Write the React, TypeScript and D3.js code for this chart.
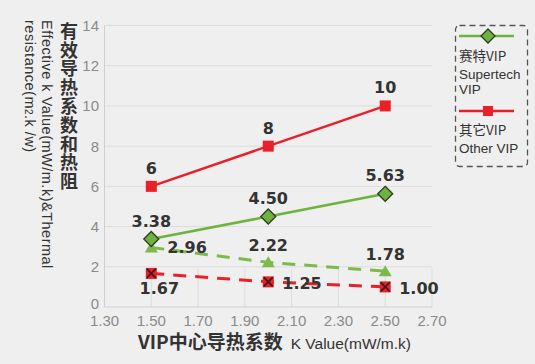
import React from "react";
import * as d3 from "d3";

const xValues = [1.5, 2.0, 2.5];
const superK = [3.38, 4.5, 5.63];
const otherK = [6, 8, 10];
const superR = [2.96, 2.22, 1.78];
const otherR = [1.67, 1.25, 1.0];
const superKLabels = ["3.38", "4.50", "5.63"];
const otherKLabels = ["6", "8", "10"];
const superRLabels = ["2.96", "2.22", "1.78"];
const otherRLabels = ["1.67", "1.25", "1.00"];
const xTicks = [1.3, 1.5, 1.7, 1.9, 2.1, 2.3, 2.5, 2.7];
const yTicks = [0, 2, 4, 6, 8, 10, 12, 14];
const yTitleCN = "有效导热系数和热阻";

const W = 535, H = 364;
const GREEN = "#6db33f";
const GREEN_D = "#7dba4b";
const RED = "#e8202a";
const TXT = "#333";
const LAT = "'Liberation Sans', Arial, sans-serif";
const LBL = "'DejaVu Sans', sans-serif";
const CJK = "'Noto Sans CJK SC', 'Liberation Sans', sans-serif";

export default function App() {
  const x = d3.scaleLinear().domain([1.3, 2.7]).range([104.5, 432]);
  const y = d3.scaleLinear().domain([0, 14]).range([307, 25.5]);
  const line = (vals: number[]) =>
    d3.line<number>().x((_, i) => x(xValues[i])).y((v) => y(v))(vals) || "";

  const diamond = (cx: number, cy: number, r: number) =>
    `M${cx},${cy - r}L${cx + r},${cy}L${cx},${cy + r}L${cx - r},${cy}Z`;
  const tri = (cx: number, cy: number) =>
    `M${cx},${cy - 6}L${cx + 6.5},${cy + 5}L${cx - 6.5},${cy + 5}Z`;

  return (
    <svg width={W} height={H} style={{ position: "absolute", left: 0, top: 0 }}>
      <rect width={W} height={H} fill="#efefef" />
      {/* gridlines */}
      {yTicks.slice(1).map((t) => (
        <line key={t} x1={x(1.3)} x2={x(2.7)} y1={y(t)} y2={y(t)} stroke="#dcdcdc" strokeWidth={1} />
      ))}
      {xTicks.slice(1).map((t) => (
        <line key={t} x1={x(t)} x2={x(t)} y1={y(0)} y2={y(1.9)} stroke="#dcdcdc" strokeWidth={1} />
      ))}
      <line x1={x(1.3)} x2={x(1.3)} y1={y(14)} y2={y(0)} stroke="#d0d0d0" />
      <line x1={x(1.3)} x2={x(2.7)} y1={y(0)} y2={y(0)} stroke="#d0d0d0" />
      {/* tick labels */}
      {yTicks.map((t) => (
        <text key={t} x={99} y={y(t) - (t === 0 ? 4 : 0)} textAnchor="end" dominantBaseline="central"
          fontFamily={LAT} fontSize={15} fill="#8a8a8a">{t}</text>
      ))}
      {xTicks.map((t) => (
        <text key={t} x={x(t)} y={320} textAnchor="middle" dominantBaseline="central"
          fontFamily={LAT} fontSize={15} fill="#8a8a8a">{t.toFixed(2)}</text>
      ))}
      {/* y titles */}
      <text x={69} y={22} style={{ writingMode: "vertical-rl" }} fontFamily={CJK} fontWeight="bold"
        fontSize={18} letterSpacing={0.8} fill={TXT}>{yTitleCN}</text>
      <text transform="translate(42,20) rotate(90)" fontFamily={LAT} letterSpacing={0.5}
        fontSize={14.5} fill={TXT}>Effective k Value(mW/m.k)&amp;Thermal</text>
      <text transform="translate(25,20) rotate(90)" fontFamily={LAT} letterSpacing={0.5}
        fontSize={14.5} fill={TXT}>resistance(m<tspan fontSize={10}>2</tspan>.k /w)</text>
      {/* x title */}
      <text x={138} y={349} fontFamily={CJK} fontWeight="bold" fontSize={19} fill={TXT}>
        VIP中心导热系数
        <tspan fontWeight="normal" fontFamily={LAT} fontSize={15.5} dx={8}>K Value(mW/m.k)</tspan>
      </text>

      {/* dashed lines */}
      <path d={line(superR)} fill="none" stroke={GREEN_D} strokeWidth={3} strokeDasharray="13,9" />
      <path d={line(otherR)} fill="none" stroke={RED} strokeWidth={3} strokeDasharray="13,9" />
      {/* solid lines */}
      <path d={line(otherK)} fill="none" stroke={RED} strokeWidth={2.5} />
      <path d={line(superK)} fill="none" stroke={GREEN} strokeWidth={2.5} />

      {/* markers */}
      {superR.map((v, i) => (
        <path key={"sr" + i} d={tri(x(xValues[i]), y(v))} fill={GREEN_D} />
      ))}
      {otherR.map((v, i) => {
        const cx = x(xValues[i]), cy = y(v);
        return (
          <g key={"or" + i}>
            <rect x={cx - 5.5} y={cy - 5.5} width={11} height={11} fill={RED} />
            <path d={`M${cx - 4.5},${cy - 4.5}L${cx + 4.5},${cy + 4.5}M${cx + 4.5},${cy - 4.5}L${cx - 4.5},${cy + 4.5}`}
              stroke="#3a1a1a" strokeWidth={1.6} />
          </g>
        );
      })}
      {otherK.map((v, i) => (
        <rect key={"ok" + i} x={x(xValues[i]) - 5.5} y={y(v) - 5.5} width={11} height={11} fill={RED} />
      ))}
      {superK.map((v, i) => (
        <path key={"sk" + i} d={diamond(x(xValues[i]), y(v), 7.5)} fill={GREEN} stroke="#2f3a22" strokeWidth={1.3} />
      ))}

      {/* data labels */}
      {otherK.map((v, i) => (
        <text key={"lok" + i} x={x(xValues[i])} y={y(v) - 18} textAnchor="middle" dominantBaseline="central"
          fontFamily={LBL} fontWeight="bold" fontSize={16} fill={TXT}>{otherKLabels[i]}</text>
      ))}
      {superK.map((v, i) => (
        <text key={"lsk" + i} x={x(xValues[i])} y={y(v) - 18} textAnchor="middle" dominantBaseline="central"
          fontFamily={LBL} fontWeight="bold" fontSize={16} fill={TXT}>{superKLabels[i]}</text>
      ))}
      {superR.map((v, i) => (
        i === 0 ? (
          <text key={"lsr" + i} x={x(xValues[i]) + 16} y={y(v)} dominantBaseline="central"
            fontFamily={LBL} fontWeight="bold" fontSize={16} fill={TXT}>{superRLabels[i]}</text>
        ) : (
          <text key={"lsr" + i} x={x(xValues[i])} y={y(v) - 17} textAnchor="middle" dominantBaseline="central"
            fontFamily={LBL} fontWeight="bold" fontSize={16} fill={TXT}>{superRLabels[i]}</text>
        )
      ))}
      {otherR.map((v, i) => (
        i === 0 ? (
          <text key={"lor" + i} x={x(xValues[i]) + 8} y={y(v) + 15} textAnchor="middle" dominantBaseline="central"
            fontFamily={LBL} fontWeight="bold" fontSize={16} fill={TXT}>{otherRLabels[i]}</text>
        ) : (
          <text key={"lor" + i} x={x(xValues[i]) + 14} y={y(v) + 2} dominantBaseline="central"
            fontFamily={LBL} fontWeight="bold" fontSize={16} fill={TXT}>{otherRLabels[i]}</text>
        )
      ))}

      {/* legend */}
      <rect x={455.5} y={25.5} width={72} height={141} rx={4} fill="none" stroke="#555" strokeWidth={1.3} strokeDasharray="6,4" />
      <line x1={459} x2={514} y1={36} y2={36} stroke={GREEN} strokeWidth={2.5} />
      <path d={diamond(488, 36, 7)} fill={GREEN} stroke="#2f3a22" strokeWidth={1.3} />
      <text x={459} y={55} dominantBaseline="central" fontFamily={CJK} fontSize={13.5} fill={TXT}>赛特VIP</text>
      <text x={459} y={74} dominantBaseline="central" fontFamily={LAT} fontSize={13.5} fill={TXT}>Supertech</text>
      <text x={459} y={89} dominantBaseline="central" fontFamily={LAT} fontSize={13.5} fill={TXT}>VIP</text>
      <line x1={459} x2={514} y1={111} y2={111} stroke={RED} strokeWidth={2.5} />
      <rect x={483} y={106} width={10} height={10} fill={RED} />
      <text x={459} y={129} dominantBaseline="central" fontFamily={CJK} fontSize={13.5} fill={TXT}>其它VIP</text>
      <text x={459} y={148} dominantBaseline="central" fontFamily={LAT} fontSize={13.5} fill={TXT}>Other VIP</text>
    </svg>
  );
}
